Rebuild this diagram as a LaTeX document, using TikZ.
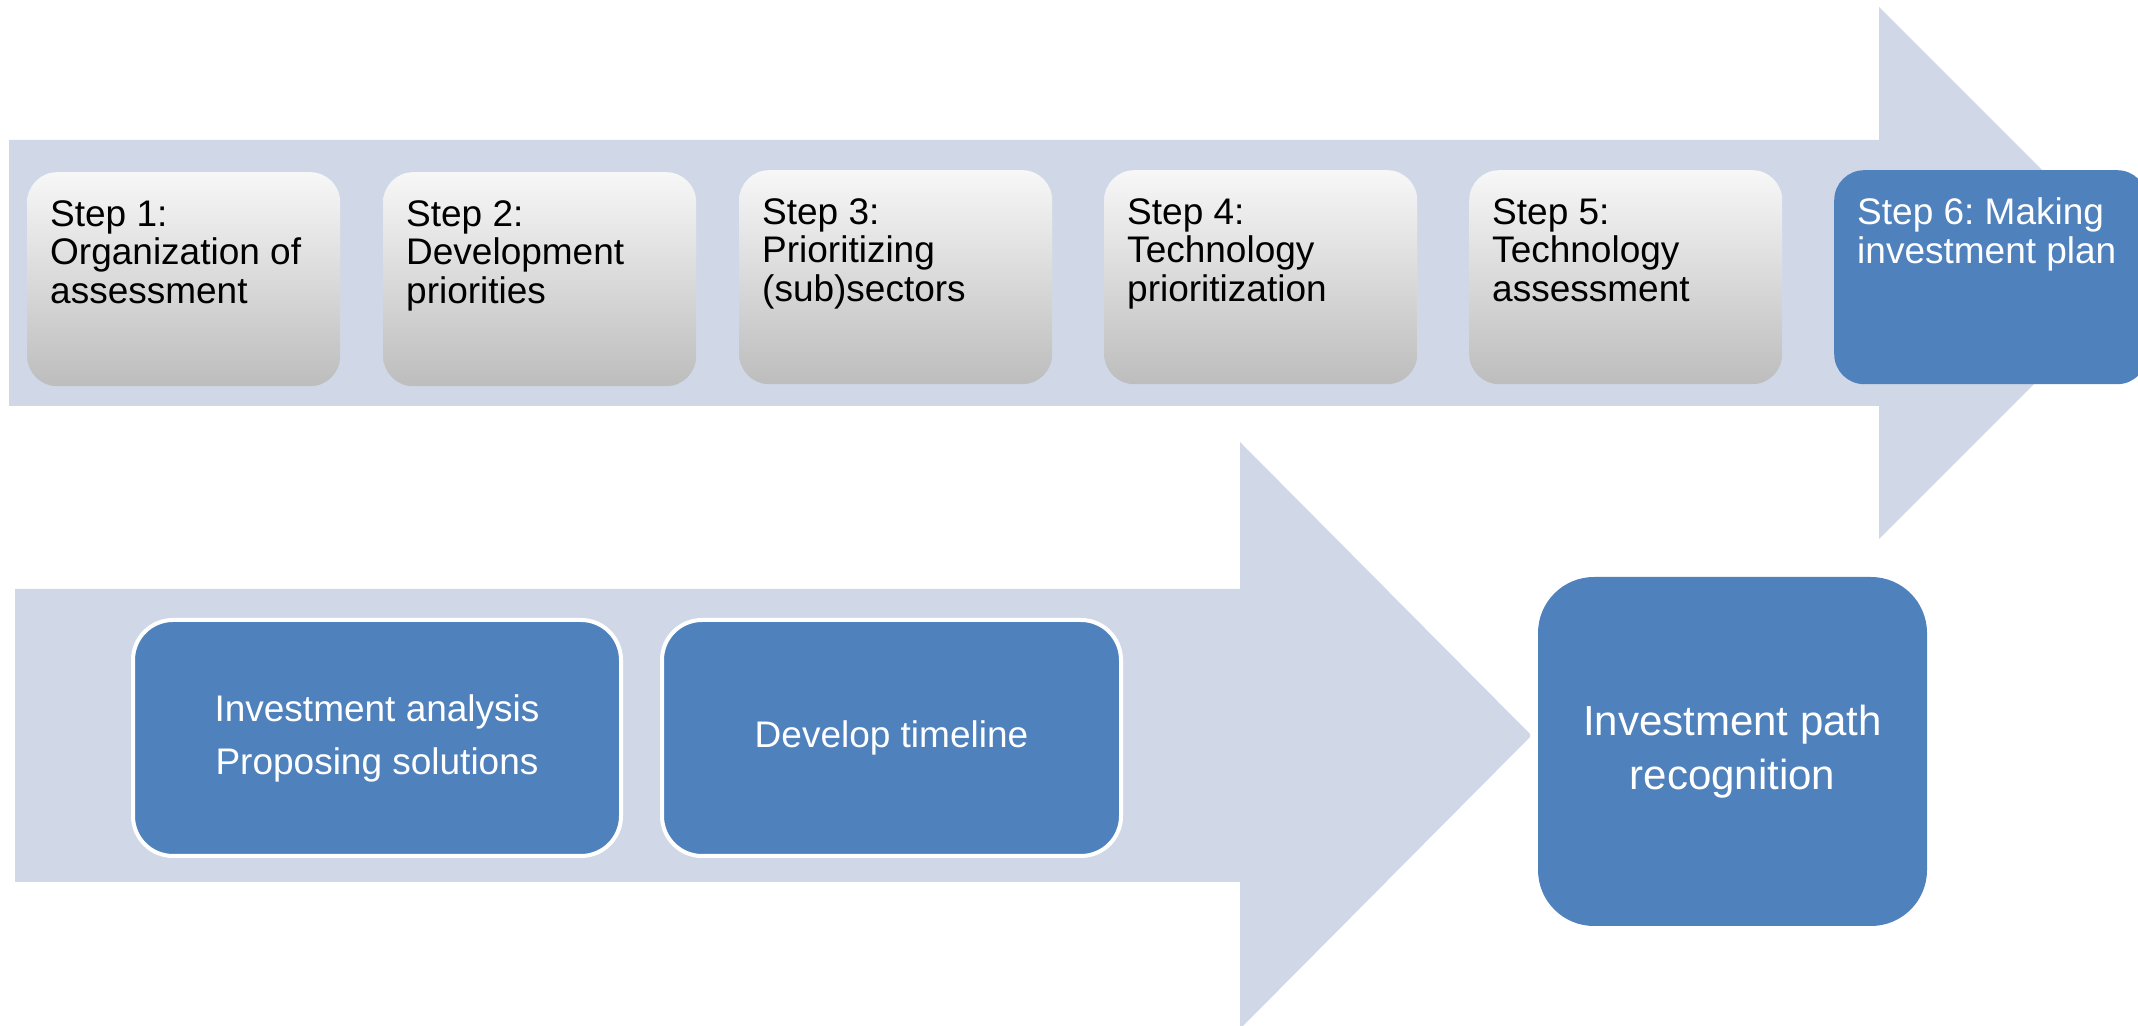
\documentclass[tikz,border=0pt]{standalone}
\usepackage{fontspec}
\setmainfont{Liberation Sans}
\frenchspacing
\definecolor{arrowfill}{HTML}{D0D8E8}
\definecolor{planblue}{HTML}{4F81BD}
\definecolor{steptop}{HTML}{F7F7F7}
\definecolor{stepmid}{HTML}{E6E6E6}
\definecolor{stepbot}{HTML}{BDBDBD}
\begin{document}
\begin{tikzpicture}
[x=1pt,y=1pt,
  stepgray/.style={shape=rectangle,rounded corners=30pt,inner sep=0pt,%
    minimum width=313pt,minimum height=214pt,%
    top color=steptop,middle color=stepmid,bottom color=stepbot},%
  stepblue/.style={shape=rectangle,rounded corners=30pt,inner sep=0pt,%
    minimum width=313pt,minimum height=214pt,fill=planblue},%
  steptext/.style={inner sep=0pt,align=left,font=\fontsize{37}{38.5}\selectfont},%
  taskdecorate/.style={shape=rectangle,rounded corners=40pt,fill=planblue,%
    draw=white,line width=4pt,minimum height=236pt,text=white,align=center,%
    font=\fontsize{37}{53}\selectfont},%
  pathdecorate/.style={shape=rectangle,rounded corners=56pt,fill=planblue,%
    minimum width=389pt,minimum height=349pt,text=white,align=center,%
    font=\fontsize{42}{54.5}\selectfont}]
\clip (0,0) rectangle (2138,1025);
%% big arrows behind
\fill[arrowfill] (9,885) -- (1879,885) -- (1879,1018) -- (2145,752)
  -- (1879,486) -- (1879,619) -- (9,619) -- cycle;
\fill[arrowfill] (15,436) -- (1240,436) -- (1240,583) -- (1530,291)
  -- (1530,288) -- (1240,-4) -- (1240,143) -- (15,143) -- cycle;
%% steps of the upper arrow
\foreach \nodename/\x/\y/\boxstyle/\ink/\caption in {
  s1/27/853/stepgray/black/{Step 1:\\Organization of\\assessment},
  s2/383/853/stepgray/black/{Step 2:\\Development\\priorities},
  s3/739/855/stepgray/black/{Step 3:\\Prioritizing\\(sub)sectors},
  s4/1104/855/stepgray/black/{Step 4:\\Technology\\prioritization},
  s5/1469/855/stepgray/black/{Step 5:\\Technology\\assessment},
  s6/1834/855/stepblue/white/{Step 6: Making\\investment plan}}
{
  \node (\nodename) at (\x,\y) [\boxstyle,anchor=north west] {};
  \node [steptext,text=\ink,anchor=north west]
    at ([shift={(23,-28)}]\nodename.north west) {\caption};
}
%% tasks of the lower arrow
\node (analysis) at (377,287) [taskdecorate,minimum width=488pt]
  {Investment analysis\\Proposing solutions};
\node (timeline) at (891.5,287) [taskdecorate,minimum width=459pt]
  {Develop timeline};
\node (path) at (1732.5,273.5) [pathdecorate] {Investment path\\recognition};
\end{tikzpicture}
\end{document}
